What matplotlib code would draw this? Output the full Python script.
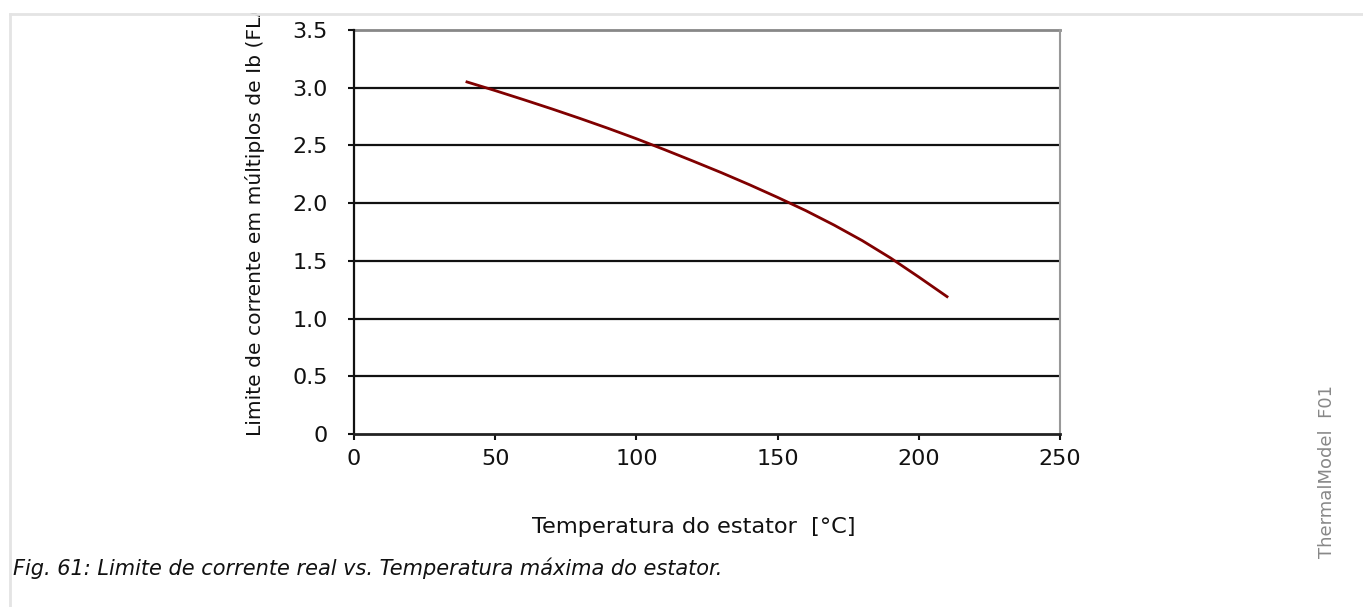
import matplotlib
matplotlib.use("Agg")
import matplotlib.pyplot as plt
from matplotlib.patches import Rectangle
from matplotlib.lines import Line2D

# Data
temperature = [40, 50, 60, 70, 80, 90, 100, 110, 120, 130, 140, 150, 160, 170, 180, 190, 200, 210]
current_limit = [3.05, 2.975, 2.897, 2.817, 2.734, 2.648, 2.558, 2.463, 2.365, 2.265, 2.16, 2.05,
                 1.935, 1.81, 1.675, 1.525, 1.36, 1.19]
x_ticks = [0, 50, 100, 150, 200, 250]
y_ticks = [0, 0.5, 1.0, 1.5, 2.0, 2.5, 3.0, 3.5]
y_tick_labels = ["0", "0.5", "1.0", "1.5", "2.0", "2.5", "3.0", "3.5"]

W, H = 1363, 607
fig = plt.figure(figsize=(W / 100, H / 100), dpi=100)
fig.patch.set_facecolor("white")

ax = fig.add_axes([354 / W, 1 - 434 / H, (1060 - 354) / W, (434 - 30) / H])
ax.set_xlim(0, 250)
ax.set_ylim(0, 3.5)

# grid lines
for yv in y_ticks[1:-1]:
    ax.axhline(yv, color="#111111", lw=1.6, zorder=1)
ax.axhline(3.5, color="#888888", lw=2.0, zorder=1, clip_on=False)

ax.plot(temperature, current_limit, color="#800000", lw=2.0, zorder=3)

ax.spines["top"].set_visible(False)
ax.spines["right"].set_color("#999999")
ax.spines["right"].set_linewidth(1.5)
ax.spines["left"].set_color("#111111")
ax.spines["left"].set_linewidth(1.6)
ax.spines["bottom"].set_color("#222222")
ax.spines["bottom"].set_linewidth(2.0)

ax.set_xticks(x_ticks)
ax.set_xticklabels([str(v) for v in x_ticks])
ax.set_yticks(y_ticks)
ax.set_yticklabels(y_tick_labels)
ax.tick_params(axis="both", labelsize=16, colors="#111111", length=4, width=1.5, direction="out")
ax.tick_params(axis="x", pad=7)
ax.tick_params(axis="y", pad=15)

fig.text(694 / W, 1 - 527 / H, "Temperatura do estator  [°C]", fontsize=16.2,
         ha="center", va="center", color="#111111")
fig.text(255 / W, 1 - 436 / H, "Limite de corrente em múltiplos de Ib (FLA)", rotation=90,
         fontsize=14.6, ha="center", va="bottom", color="#111111", zorder=1)

# white strip above frame (the reference clips the axis label here)
fig.add_artist(Rectangle((0, 1 - 13 / H), 1, 13 / H, transform=fig.transFigure,
                         facecolor="white", edgecolor="none", zorder=10))
# frame lines
fig.add_artist(Line2D([10 / W, 1], [1 - 14 / H, 1 - 14 / H], transform=fig.transFigure,
                      color="#e4e4e4", lw=2, zorder=11))
fig.add_artist(Line2D([10 / W, 10 / W], [0, 1 - 14 / H], transform=fig.transFigure,
                      color="#e4e4e4", lw=2, zorder=11))

fig.text(13 / W, 1 - 568 / H, "Fig. 61: Limite de corrente real vs. Temperatura máxima do estator.",
         fontsize=15, style="italic", ha="left", va="center", color="#111111")

fig.text(1327 / W, 1 - 472 / H, "ThermalModel  F01", rotation=90, fontsize=13,
         ha="center", va="center", color="#888888")

fig.savefig("out.png", dpi=100, facecolor="white")
